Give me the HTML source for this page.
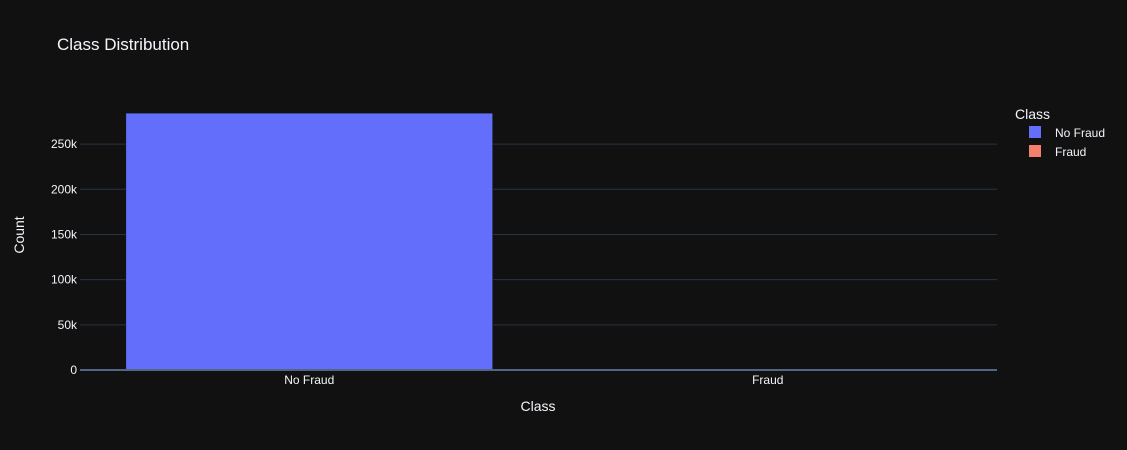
<!DOCTYPE html>
<html><head><meta charset="utf-8"><style>
html,body{margin:0;padding:0;background:#111111;}
svg{display:block;font-family:"Liberation Sans",Arial,sans-serif;}
</style></head><body>
<svg id="chart" width="1127" height="450">
<rect width="1127" height="450" fill="#111111"/>
<text x="57" y="50" fill="#f2f5fa" font-size="17">Class Distribution</text>
<g id="grid"></g>
<g id="bars"></g>
<g id="zero"></g>
<g id="xticks"></g>
<g id="yticks"></g>
<text x="538" y="411" fill="#f2f5fa" font-size="14" text-anchor="middle">Class</text>
<text transform="translate(24,235) rotate(-90)" fill="#f2f5fa" font-size="14" text-anchor="middle">Count</text>
<g>
<text x="1015" y="119" fill="#f2f5fa" font-size="14">Class</text>
<g><rect x="1029" y="126" width="12" height="12" fill="#636efa"/><text x="1055" y="137" fill="#f2f5fa" font-size="12">No Fraud</text></g>
<g><rect x="1029" y="145" width="12" height="12" fill="#f6806e"/><text x="1055" y="156" fill="#f2f5fa" font-size="12">Fraud</text></g>
</g>
</svg>
<script>
const categories = ["No Fraud","Fraud"];
const counts = [284315, 492];
const colors = ["#636efa","#f6806e"];
const yTickValues = [0,50000,100000,150000,200000,250000];
const yTickLabels = ["0","50k","100k","150k","200k","250k"];
const NS="http://www.w3.org/2000/svg";
const L=80,R=997,B=370,T=99;
const yMax=Math.max(...counts)*1.055;
const y=v=>B-(v/yMax)*(B-T);
const band=(R-L)/categories.length;
const x=i=>L+band*i+band/2;
function mk(tag,attrs,parent){const e=document.createElementNS(NS,tag);for(const k in attrs)e.setAttribute(k,attrs[k]);parent.appendChild(e);return e;}
const grid=document.getElementById('grid'),bars=document.getElementById('bars'),xt=document.getElementById('xticks'),yt=document.getElementById('yticks'),zero=document.getElementById('zero');
yTickValues.forEach((v,i)=>{
  const ln=mk('line',{x1:L,x2:R,y1:y(v),y2:y(v),stroke:v===0?'#506784':'#283442','stroke-width':v===0?2:1},v===0?zero:grid);
  
  
  const t=mk('text',{x:L-3,y:y(v)+4,fill:'#f2f5fa','font-size':12,'text-anchor':'end'},yt);
  t.textContent=yTickLabels[i];
  
  
});
categories.forEach((c,i)=>{
  const w=band*0.8;
  const r=mk('rect',{x:x(i)-w/2,y:y(counts[i]),width:w,height:B-y(counts[i]),fill:colors[i],stroke:'#111111','stroke-width':0.5},bars);
  
  
  const t=mk('text',{x:x(i),y:384,fill:'#f2f5fa','font-size':12,'text-anchor':'middle'},xt);
  t.textContent=c;
  
  
});
</script>
</body></html>
